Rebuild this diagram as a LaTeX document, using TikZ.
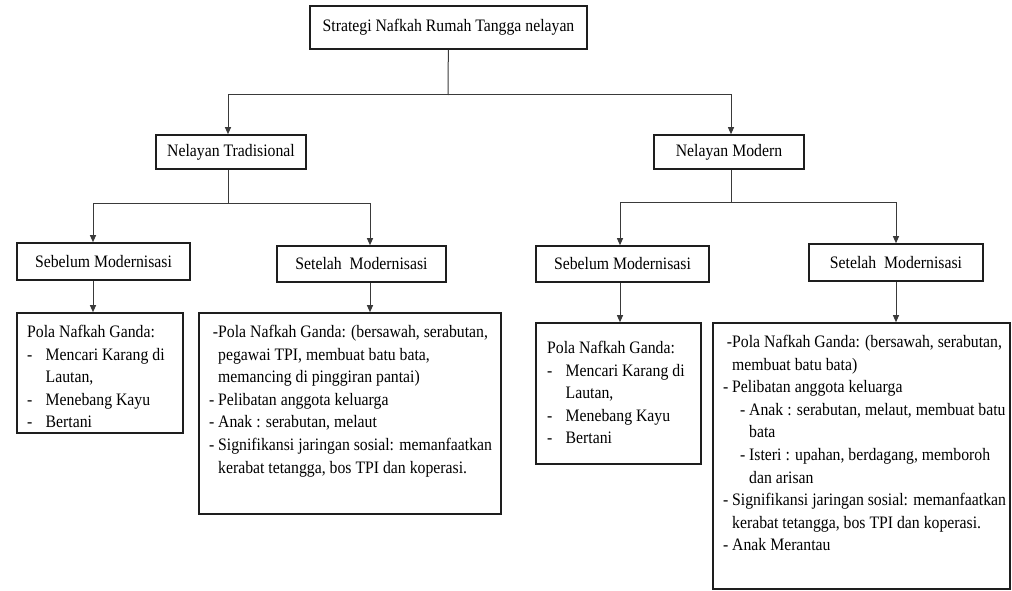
\documentclass[tikz,border=0pt]{standalone}
\usepackage{fontspec}
\setmainfont{Liberation Serif}[FakeStretch=0.9]
\usetikzlibrary{arrows.meta, positioning, calc}
\definecolor{lineGray}{HTML}{3A3A3A}
\definecolor{boxDark}{HTML}{1E1E1E}
\newcommand{\dashI}{\makebox[18.5pt][l]{-}}
\newcommand{\dashH}{\leavevmode\llap{-\ }}
\tikzset{
  arrowG/.style={-{Triangle[length=7pt, width=6pt]}, color=lineGray, line width=1pt},
  lineG/.style={lineGray, line width=1pt},
  boxL/.style={rectangle, draw=boxDark, line width=1.6pt, align=center, inner sep=0pt},
  boxT/.style={rectangle, draw=boxDark, line width=1.6pt, inner sep=0pt},
  txtT/.style={anchor=north west, align=left, inner sep=0pt},
}

\begin{document}
\begin{tikzpicture}[x=1pt, y=-1pt, font=\fontsize{17.5}{22.6}\selectfont]
    \useasboundingbox (0,0) rectangle (1012,591);
    % headings
    \node[boxL, minimum width=277pt, minimum height=43pt] (root) at (448.5,27.5)
      {Strategi Nafkah Rumah Tangga nelayan};
    \node[boxL, minimum width=150pt, minimum height=34pt] (trad) at (231,152) {Nelayan Tradisional};
    \node[boxL, minimum width=150pt, minimum height=34pt] (modern) at (729,152) {Nelayan Modern};
    \node[boxL, minimum width=173pt, minimum height=37pt] (sebL) at (103.5,261.5) {Sebelum Modernisasi};
    \node[boxL, minimum width=169pt, minimum height=36pt] (setL) at (361.5,264) {Setelah~~Modernisasi};
    \node[boxL, minimum width=173pt, minimum height=36pt] (sebR) at (622.5,264) {Sebelum Modernisasi};
    \node[boxL, minimum width=174pt, minimum height=37pt] (setR) at (896,262.5) {Setelah~~Modernisasi};
    % content boxes
    \node[boxT, minimum width=166pt, minimum height=120pt] (polaL) at (100,373) {};
    \node[boxT, minimum width=302pt, minimum height=201pt] (isiL) at (350,413.5) {};
    \node[boxT, minimum width=165pt, minimum height=141pt] (polaR) at (618.5,393.5) {};
    \node[boxT, minimum width=297pt, minimum height=266pt] (isiR) at (861.5,456) {};
    \node[txtT] (polaLtxt) at (27,325) {Pola Nafkah Ganda:\\
      \dashI Mencari Karang di\\ \hspace*{18.5pt}Lautan,\\
      \dashI Menebang Kayu\\ \dashI Bertani};
    \node[txtT] (isiLtxt) at (218,325) {\leavevmode\llap{-}Pola Nafkah Ganda: (bersawah, serabutan,\\
      pegawai TPI, membuat batu bata,\\
      memancing di pinggiran pantai)\\
      \dashH Pelibatan anggota keluarga\\
      \dashH Anak : serabutan, melaut\\
      \dashH Signifikansi jaringan sosial: memanfaatkan\\
      kerabat tetangga, bos TPI dan koperasi.};
    \node[txtT] (polaRtxt) at (547,341) {Pola Nafkah Ganda:\\
      \dashI Mencari Karang di\\ \hspace*{18.5pt}Lautan,\\
      \dashI Menebang Kayu\\ \dashI Bertani};
    \node[txtT] (isiRtxt) at (732,335) {\leavevmode\llap{-}Pola Nafkah Ganda: (bersawah, serabutan,\\
      membuat batu bata)\\
      \dashH Pelibatan anggota keluarga\\
      \hspace*{17pt}\dashH Anak : serabutan, melaut, membuat batu\\
      \hspace*{17pt}bata\\
      \hspace*{17pt}\dashH Isteri : upahan, berdagang, memboroh\\
      \hspace*{17pt}dan arisan\\
      \dashH Signifikansi jaringan sosial: memanfaatkan\\
      kerabat tetangga, bos TPI dan koperasi.\\
      \dashH Anak Merantau};
    % connectors
    \coordinate (j1) at (448,95);
    \coordinate (j2) at (228,203);
    \coordinate (j3) at (731,202);
    \draw[lineG] (root) -- (j1);
    \draw[arrowG] (j1) -| ([xshift=-3pt]trad.north);
    \draw[arrowG] (j1) -| ([xshift=2pt]modern.north);
    \draw[lineG] ([xshift=-3pt]trad.south) -- (j2);
    \draw[arrowG] (j2) -| ([xshift=-10.5pt]sebL.north);
    \draw[arrowG] (j2) -| ([xshift=8.5pt]setL.north);
    \draw[lineG] ([xshift=2pt]modern.south) -- (j3);
    \draw[arrowG] (j3) -| ([xshift=-2.5pt]sebR.north);
    \draw[arrowG] (j3) -| (setR.north);
    \draw[arrowG] ([xshift=-10.5pt]sebL.south) -- ([xshift=-7pt]polaL.north);
    \draw[arrowG] ([xshift=8.5pt]setL.south) -- ([xshift=20pt]isiL.north);
    \draw[arrowG] ([xshift=-2.5pt]sebR.south) -- ([xshift=1.5pt]polaR.north);
    \draw[arrowG] (setR.south) -- ([xshift=34.5pt]isiR.north);
\end{tikzpicture}
\end{document}
